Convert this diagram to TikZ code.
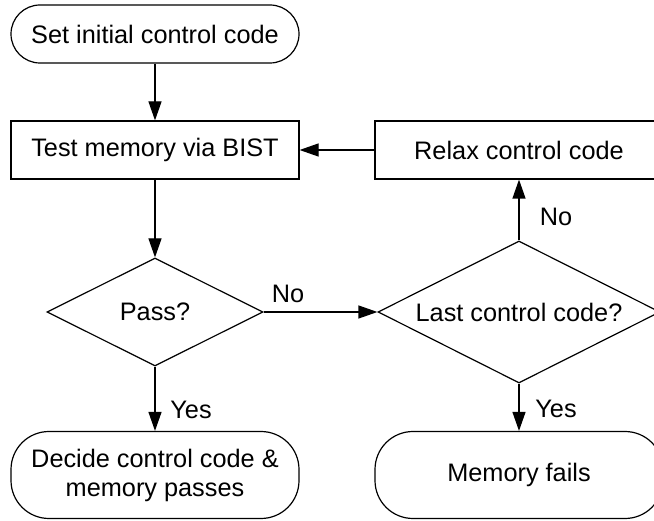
\documentclass[tikz,border=0pt]{standalone}
\usepackage{fontspec}
\setmainfont{Liberation Sans}
\usetikzlibrary{shapes.geometric,arrows.meta}

\begin{document}
\begin{tikzpicture}[x=1pt,y=-1pt,
  every node/.style={font=\fontsize{25.3}{29}\selectfont, align=center, inner sep=0pt},
  terminal/.style={draw, line width=1.2pt, rectangle, minimum width=288pt, rounded corners=#1},
  process/.style={draw, line width=1.2pt, rectangle, minimum width=288pt, minimum height=58pt},
  decision/.style={draw, line width=1.2pt, diamond, aspect=2},
  flow/.style={line width=1.2pt, -{Triangle[length=19pt,width=13pt]}},
  lbl/.style={font=\fontsize{25.3}{29}\selectfont}
]
  \useasboundingbox (0,0) rectangle (654,521);
  \clip (0,0) rectangle (654,521);

  % left column
  \node[terminal=29pt, minimum height=58pt] (start) at (155,34) {Set initial control code};
  \node[process] (test) at (155,150) {Test memory via BIST};
  \node[decision, minimum width=216pt, minimum height=108pt] (pass) at (155,312) {Pass?};
  \node[terminal=38pt, minimum height=87pt] (decide) at (155,475) {Decide control code \&\\memory passes};

  % right column
  \node[process] (relax) at (519,150) {Relax control code};
  \node[decision, minimum width=282pt, minimum height=142pt] (last) at (519,312) {Last control code?};
  \node[terminal=38pt, minimum height=87pt] (fails) at (519,475) {Memory fails};

  % connectors
  \draw[flow] (start.south) -- (test.north);
  \draw[flow] (test.south) -- (pass.north);
  \draw[flow] (pass.east) -- (last.west);
  \draw[flow] (last.north) -- (relax.south);
  \draw[flow] (relax.west) -- (test.east);
  \draw[flow] (pass.south) -- (decide.north);
  \draw[flow] (last.south) -- (fails.north);

  % branch labels
  \node[lbl] (noA) at (288,294) {No};
  \node[lbl] (yesA) at (191,410) {Yes};
  \node[lbl] (noB) at (556,217) {No};
  \node[lbl] (yesB) at (556,409) {Yes};
\end{tikzpicture}
\end{document}
